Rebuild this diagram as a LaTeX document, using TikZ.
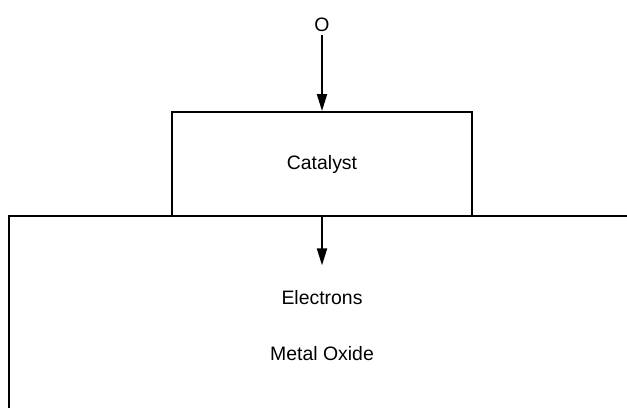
\documentclass[tikz,border=0pt]{standalone}
\usepackage{fontspec}
\setmainfont{Liberation Sans}
\usetikzlibrary{arrows.meta,positioning}

\begin{document}
\begin{tikzpicture}[
  x=1bp, y=-1bp,
  lbl/.style={font=\fontsize{19.5}{23}\selectfont},
  box/.style={draw,line width=2bp,minimum width=300bp,minimum height=104bp,lbl},
  arr/.style={-{Triangle[length=17bp,width=10bp]},line width=2bp}
]
  \useasboundingbox (0,0) rectangle (627,407);

  \node[lbl] (oxygen) at (322,25) {O};
  \node[box] (catalyst) at (322,164) {Catalyst};
  \node[lbl] (electrons) at (322,298) {Electrons};
  \node[lbl] (oxide) at (322,354) {Metal Oxide};

  % metal oxide slab, open to the right and bottom
  \draw[line width=2bp] (9,410) |- (630,216);

  \draw[arr] (oxygen) -- (catalyst.north);
  \draw[arr, shorten >=22bp] (catalyst.south) -- (electrons);
\end{tikzpicture}
\end{document}
